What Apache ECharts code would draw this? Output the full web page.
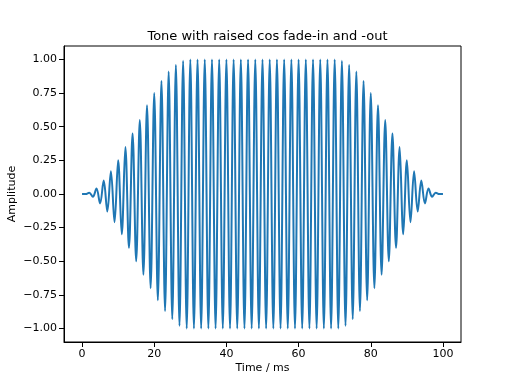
<!DOCTYPE html>
<html>
<head>
<meta charset="utf-8">
<script src="https://cdn.jsdelivr.net/npm/echarts@6/dist/echarts.min.js"></script>
<style>html,body{margin:0;padding:0;background:#fff}#c{width:512px;height:384px}</style>
</head>
<body>
<div id="c"></div>
<script>
// Extremum times (ms) of the tone, one per half-period
const timeMs = [0,1,2,3,4,5,6,7,8,9,10,11,12,13,14,15,16,17,18,19,20,21,22,23,24,25,26,27,28,29,30,31,32,33,34,35,36,37,38,39,40,41,42,43,44,45,46,47,48,49,50,51,52,53,54,55,56,57,58,59,60,61,62,63,64,65,66,67,68,69,70,71,72,73,74,75,76,77,78,79,80,81,82,83,84,85,86,87,88,89,90,91,92,93,94,95,96,97,98,99,100];
// Amplitude at each extremum
const amplitude = [0.00,-0.00,0.01,-0.02,0.04,-0.07,0.10,-0.13,0.17,-0.21,0.25,-0.30,0.35,-0.40,0.45,-0.50,0.55,-0.60,0.66,-0.70,0.75,-0.79,0.84,-0.87,0.91,-0.93,0.96,-0.98,0.99,-1.00,
1.00,-1.00,1.00,-1.00,1.00,-1.00,1.00,-1.00,1.00,-1.00,1.00,-1.00,1.00,-1.00,1.00,-1.00,1.00,-1.00,1.00,-1.00,1.00,-1.00,1.00,-1.00,1.00,-1.00,1.00,-1.00,1.00,-1.00,1.00,-1.00,1.00,-1.00,1.00,-1.00,1.00,-1.00,1.00,-1.00,1.00,
-1.00,0.99,-0.98,0.96,-0.93,0.91,-0.87,0.84,-0.79,0.75,-0.70,0.66,-0.60,0.55,-0.50,0.45,-0.40,0.35,-0.30,0.25,-0.21,0.17,-0.13,0.10,-0.07,0.04,-0.02,0.01,-0.00,0.00];
const xTicks = [0,20,40,60,80,100];
const yTicks = [-1.00,-0.75,-0.50,-0.25,0.00,0.25,0.50,0.75,1.00];

const data = timeMs.map((t,i)=>[t, amplitude[i]]);
const font = 'DejaVu Sans';
const chart = echarts.init(document.getElementById('c'), null, {renderer:'canvas'});
chart.setOption({
  animation:false,
  title:{text:'Tone with raised cos fade-in and -out', left:262.5, textAlign:'center', top:25,
    textStyle:{fontFamily:font, fontSize:13, fontWeight:'normal', color:'#000'}},
  grid:{left:64, right:51, top:46, bottom:42, show:true, borderColor:'#000', borderWidth:1,
    containLabel:false, outerBoundsMode:'none'},
  xAxis:{type:'value', min:-5, max:105, name:'Time / ms', nameLocation:'middle', nameGap:21,
    nameMoveOverlap:false,
    nameTextStyle:{fontFamily:font, fontSize:11, color:'#000'},
    axisLine:{show:true, onZero:false, lineStyle:{color:'#000', width:1}},
    axisTick:{show:true, length:5, customValues:xTicks, lineStyle:{color:'#000'}},
    axisLabel:{customValues:xTicks, fontFamily:font, fontSize:11, color:'#000', margin:7},
    splitLine:{show:false}},
  yAxis:{type:'value', min:-1.1, max:1.1, name:'Amplitude', nameLocation:'middle', nameGap:46, nameRotate:90,
    nameMoveOverlap:false,
    nameTextStyle:{fontFamily:font, fontSize:11, color:'#000'},
    axisLine:{show:true, onZero:false, lineStyle:{color:'#000', width:1}},
    axisTick:{show:true, length:5, customValues:yTicks, lineStyle:{color:'#000'}},
    axisLabel:{customValues:yTicks, fontFamily:font, fontSize:11, color:'#000', margin:7,
      formatter:v=>v.toFixed(2).replace('-','\u2212')},
    splitLine:{show:false}},
  series:[{type:'line', data:data, smooth:0.36, showSymbol:false, symbol:'none',
    lineStyle:{color:'#1f77b4', width:2}}]
});
</script>
</body>
</html>
